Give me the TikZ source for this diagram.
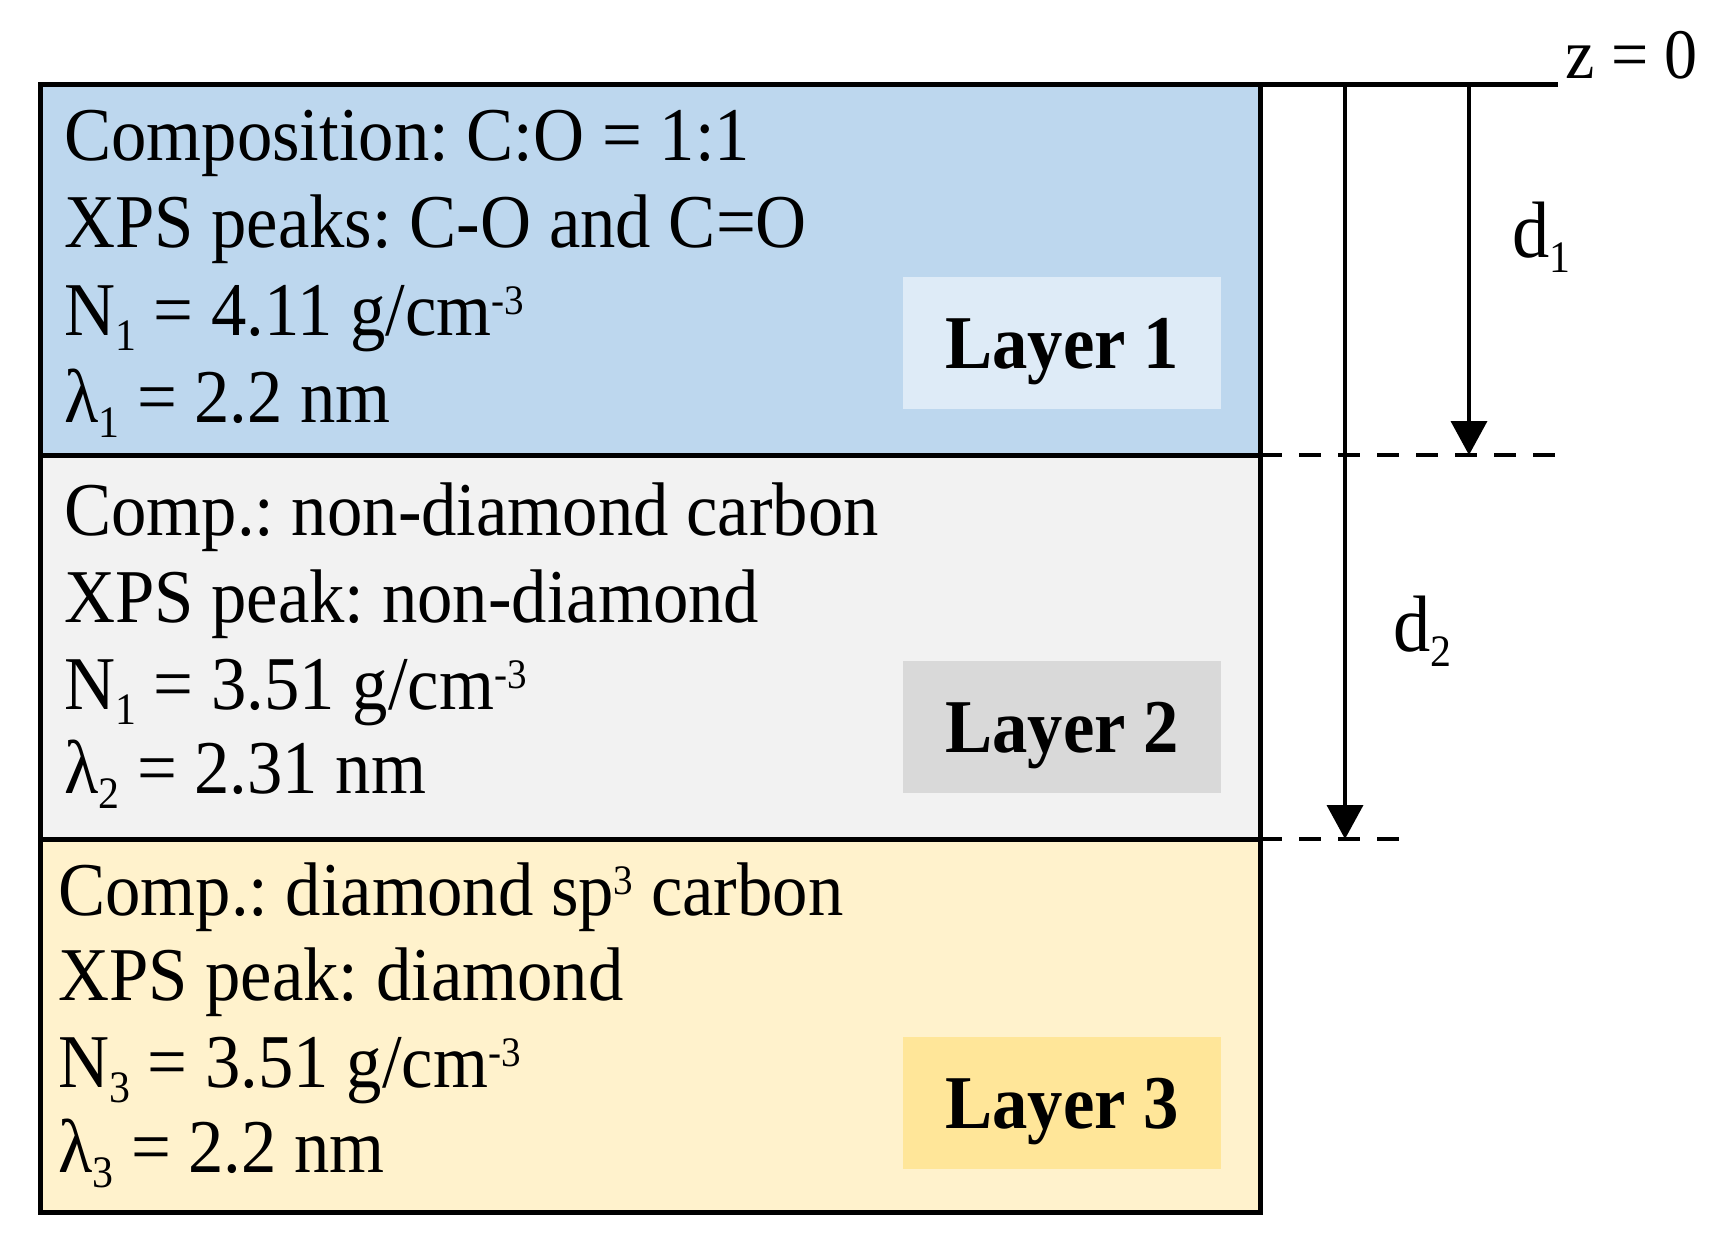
\documentclass[tikz,border=0pt]{standalone}
\usepackage{fontspec}
\setmainfont{Liberation Serif}[FakeStretch=0.93]
\usetikzlibrary{arrows.meta}
\frenchspacing
\definecolor{blueA}{HTML}{BDD7EE}
\definecolor{blueB}{HTML}{DEEBF7}
\definecolor{grayA}{HTML}{F2F2F2}
\definecolor{grayB}{HTML}{D9D9D9}
\definecolor{yelA}{HTML}{FFF2CC}
\definecolor{yelB}{HTML}{FFE699}
\newcommand\lsub[1]{\raisebox{-15pt}{\fontsize{45}{45}\selectfont #1}}
\newcommand\lsup[1]{\raisebox{21pt}{\fontsize{42}{42}\selectfont #1}}
\tikzset{
  txt/.style={anchor=base west, inner sep=0pt, font=\fontsize{76}{80}\selectfont},
  labelbox/.style={minimum width=318pt, minimum height=132pt, inner sep=0pt, text depth=0pt, font=\fontsize{76}{80}\selectfont\bfseries},
  boxline/.style={line width=5pt},
  dimarrow/.style={line width=3.8pt, -{Triangle[length=34pt,width=36pt]}},
  dashline/.style={line width=4.5pt, dash pattern=on 22pt off 17pt}
}
\begin{document}
\begin{tikzpicture}[x=1pt,y=-1pt]
\useasboundingbox (0,0) rectangle (1714,1254);
% layer fills
\fill[blueA] (40,84) rectangle (1260,455);
\fill[grayA] (40,455) rectangle (1260,839);
\fill[yelA] (40,839) rectangle (1260,1212);
% label boxes
\node[labelbox, fill=blueB] (lab1) at (1062,343) {Layer 1};
\node[labelbox, fill=grayB] (lab2) at (1062,727) {Layer 2};
\node[labelbox, fill=yelB] (lab3) at (1062,1103) {Layer 3};
% coordinates
\coordinate (tl) at (40,84);
\coordinate (ztop) at (1558,84);
\coordinate (br) at (1260,1212);
\coordinate (b1l) at (40,455);
\coordinate (b1r) at (1260,455);
\coordinate (b2l) at (40,839);
\coordinate (b2r) at (1260,839);
\coordinate (d1end) at (1558,455);
\coordinate (d2end) at (1401,839);
\coordinate (a1s) at (1469,84);
\coordinate (a1e) at (1469,455);
\coordinate (a2s) at (1345,84);
\coordinate (a2e) at (1345,839);
% box lines
\draw[boxline] (tl) rectangle (br);
\draw[boxline] (tl) -- (ztop);
\draw[boxline] (b1l) -- (b1r);
\draw[boxline] (b2l) -- (b2r);
% dashed lines
\draw[dashline] (b1r) -- (d1end);
\draw[dashline] (b2r) -- (d2end);
% arrows
\draw[dimarrow] (a1s) -- (a1e);
\draw[dimarrow] (a2s) -- (a2e);
% labels
\node[txt, font=\fontsize{71}{75}\selectfont] (z0) at (1565,78) {z = 0};
\node[txt, font=\fontsize{80}{84}\selectfont] (d1) at (1512,257) {d\lsub{1}};
\node[txt, font=\fontsize{80}{84}\selectfont] (d2) at (1393,651) {d\lsub{2}};
% layer 1 text
\node[txt] (t11) at (64,160) {Composition: C:O = 1:1};
\node[txt] (t12) at (64,247) {XPS peaks: C-O and C=O};
\node[txt] (t13) at (64,335) {N\lsub{1} = 4.11 g/cm\lsup{-3}};
\node[txt] (t14) at (64,422) {λ\lsub{1} = 2.2 nm};
% layer 2 text
\node[txt] (t21) at (64,535) {Comp.: non-diamond carbon};
\node[txt] (t22) at (64,622) {XPS peak: non-diamond};
\node[txt] (t23) at (64,709) {N\lsub{1} = 3.51 g/cm\lsup{-3}};
\node[txt] (t24) at (64,793) {λ\lsub{2} = 2.31 nm};
% layer 3 text
\node[txt] (t31) at (58,915) {Comp.: diamond sp\lsup{3} carbon};
\node[txt] (t32) at (58,1000) {XPS peak: diamond};
\node[txt] (t33) at (58,1087) {N\lsub{3} = 3.51 g/cm\lsup{-3}};
\node[txt] (t34) at (58,1172) {λ\lsub{3} = 2.2 nm};
\end{tikzpicture}
\end{document}
